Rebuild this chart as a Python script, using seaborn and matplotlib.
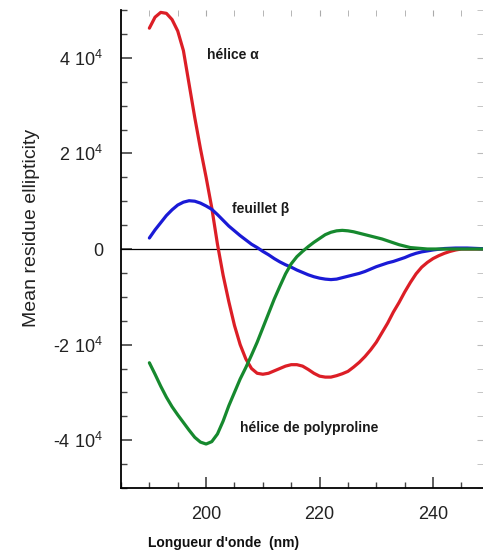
import numpy as np
import pandas as pd
import matplotlib
matplotlib.use("Agg")
import matplotlib.pyplot as plt
from matplotlib.ticker import MultipleLocator, FixedLocator
import seaborn as sns

# ---------------- data (ellipticity in units of 1e4) ----------------
wl_alpha = [190, 191, 192, 193, 194, 195, 196, 197, 198, 199, 200, 201, 202, 203, 204, 205,
            206, 207, 208, 209, 210, 211, 212, 213, 214, 215, 216, 217, 218, 219, 220, 221,
            222, 223, 224, 225, 226, 227, 228, 229, 230, 231, 232, 233, 234, 235, 236, 237,
            238, 239, 240, 241, 242, 243, 244, 245, 247, 250]
val_alpha = [4.62, 4.85, 4.95, 4.93, 4.80, 4.56, 4.15, 3.45, 2.75, 2.10, 1.50, 0.86, 0.10, -0.55,
             -1.10, -1.60, -2.00, -2.30, -2.50, -2.60, -2.62, -2.60, -2.55, -2.50, -2.45, -2.42,
             -2.42, -2.45, -2.52, -2.60, -2.66, -2.68, -2.68, -2.65, -2.61, -2.56, -2.47, -2.37,
             -2.25, -2.11, -1.95, -1.75, -1.55, -1.32, -1.12, -0.90, -0.70, -0.52, -0.38, -0.28,
             -0.20, -0.14, -0.09, -0.05, -0.02, 0.0, 0.0, 0.0]

wl_beta = [190, 191, 192, 193, 194, 195, 196, 197, 198, 199, 200, 201, 202, 203, 204, 205,
           206, 207, 208, 209, 210, 211, 212, 213, 214, 215, 216, 217, 218, 219, 220, 221,
           222, 223, 224, 225, 226, 227, 228, 229, 230, 231, 232, 233, 234, 235, 236, 237,
           238, 239, 240, 242, 244, 246, 248, 250]
val_beta = [0.23, 0.40, 0.55, 0.70, 0.82, 0.92, 0.98, 1.01, 1.00, 0.96, 0.90, 0.83, 0.72, 0.60,
            0.48, 0.38, 0.28, 0.19, 0.10, 0.03, -0.05, -0.12, -0.20, -0.27, -0.33, -0.38, -0.44,
            -0.49, -0.54, -0.58, -0.61, -0.63, -0.64, -0.63, -0.60, -0.57, -0.54, -0.51, -0.47,
            -0.42, -0.37, -0.33, -0.29, -0.26, -0.22, -0.18, -0.13, -0.09, -0.06, -0.04, -0.02,
            0.01, 0.02, 0.02, 0.01, 0.0]

wl_ppii = [190, 191, 192, 193, 194, 195, 196, 197, 198, 199, 200, 201, 202, 203, 204, 205,
           206, 207, 208, 209, 210, 211, 212, 213, 214, 215, 216, 217, 218, 219, 220, 221,
           222, 223, 224, 225, 226, 227, 228, 229, 230, 231, 232, 233, 234, 235, 236, 237,
           238, 239, 242, 246, 250]
val_ppii = [-2.38, -2.62, -2.87, -3.10, -3.30, -3.47, -3.63, -3.79, -3.94, -4.04, -4.08, -4.03,
            -3.87, -3.60, -3.28, -3.00, -2.72, -2.48, -2.22, -1.95, -1.65, -1.35, -1.05, -0.78,
            -0.52, -0.31, -0.16, -0.05, 0.05, 0.14, 0.22, 0.30, 0.35, 0.38, 0.39, 0.38, 0.36,
            0.33, 0.30, 0.27, 0.24, 0.21, 0.17, 0.13, 0.09, 0.06, 0.03, 0.02, 0.01, 0.0, 0.0,
            0.0, 0.0]

series_names = ["hélice α", "feuillet β", "hélice de polyproline"]
series_colors = ["#dc1e26", "#1a1ad6", "#16892e"]
ytick_vals = [-40000, -20000, 0, 20000, 40000]
ytick_labels = [r"-4 10$^{4}$", r"-2 10$^{4}$", "0", r"2 10$^{4}$", r"4 10$^{4}$"]
xtick_vals = [200, 220, 240]
xtick_labels = ["200", "220", "240"]

scale = 1e4
frames = []
for name, wl, val in zip(series_names, [wl_alpha, wl_beta, wl_ppii], [val_alpha, val_beta, val_ppii]):
    frames.append(pd.DataFrame({"wl": wl, "ell": np.array(val) * scale, "serie": name}))
df = pd.concat(frames, ignore_index=True)

# ---------------- style ----------------
sns.set_style("white")
plt.rcParams["font.family"] = ["Liberation Sans", "DejaVu Sans"]
plt.rcParams["mathtext.fontset"] = "custom"
plt.rcParams["mathtext.rm"] = "Liberation Sans"
plt.rcParams["mathtext.it"] = "Liberation Sans:italic"
plt.rcParams["mathtext.bf"] = "Liberation Sans:bold"

fig = plt.figure(figsize=(4.83, 5.55), dpi=100)
ax = fig.add_axes([121 / 483, (555 - 488) / 555, (483 - 121) / 483, (488 - 10) / 555])

ax.axhline(0, color="black", lw=0.9, zorder=1)

sns.lineplot(data=df, x="wl", y="ell", hue="serie", palette=dict(zip(series_names, series_colors)),
             sort=False, estimator=None, lw=2.3, legend=False, ax=ax, zorder=3)

ax.set_xlim(185, 248.8)
ax.set_ylim(-50000, 50000)

for s in ["top", "right"]:
    ax.spines[s].set_visible(False)
for s in ["left", "bottom"]:
    ax.spines[s].set_visible(True)
    ax.spines[s].set_color("black")
    ax.spines[s].set_linewidth(1.3)

ax.yaxis.set_major_locator(FixedLocator(ytick_vals))
ax.set_yticklabels(ytick_labels)
ax.yaxis.set_minor_locator(MultipleLocator(5000))
ax.xaxis.set_major_locator(FixedLocator(xtick_vals))
ax.set_xticklabels(xtick_labels)
ax.xaxis.set_minor_locator(MultipleLocator(5))

ax.tick_params(axis="both", which="major", direction="in", length=8, width=1.1,
               color="#333333", labelsize=13, pad=13, bottom=True, left=True)
ax.tick_params(axis="both", which="minor", direction="in", length=4, width=1.0,
               color="#444444", bottom=True, left=True)
for lab in ax.get_xticklabels() + ax.get_yticklabels():
    lab.set_color("#222222")

# faint ticks on top and right
secx = ax.secondary_xaxis("top")
secx.xaxis.set_major_locator(FixedLocator(xtick_vals))
secx.xaxis.set_minor_locator(MultipleLocator(5))
secx.tick_params(which="both", direction="in", length=4, color="#aaaaaa", labeltop=False)
secx.set_xticklabels([])
secx.spines["top"].set_visible(False)
secy = ax.secondary_yaxis("right")
secy.yaxis.set_major_locator(FixedLocator(ytick_vals))
secy.yaxis.set_minor_locator(MultipleLocator(5000))
secy.tick_params(which="both", direction="in", length=4, color="#bbbbbb", labelright=False)
secy.set_yticklabels([])
secy.spines["right"].set_visible(False)

ax.set_xlabel("")
ax.set_ylabel("")
fig.text(32 / 483, 1 - 228 / 555, "Mean residue ellipticity", rotation=90, fontsize=14,
         ha="center", va="center", color="#222222")
fig.text(148 / 483, 1 - 543 / 555, "Longueur d'onde  (nm)", fontsize=10, fontweight="bold",
         ha="left", va="center", color="#111111")

ax.text(200.2, 40600, "hélice α", fontsize=10, fontweight="bold", ha="left", va="center",
        color="#1a1a1a")
ax.text(204.5, 8400, "feuillet β", fontsize=10, fontweight="bold", ha="left", va="center",
        color="#1a1a1a")
ax.text(206, -37500, "hélice de polyproline", fontsize=10, fontweight="bold", ha="left",
        va="center", color="#1a1a1a")

fig.savefig("out.png", dpi=100)
